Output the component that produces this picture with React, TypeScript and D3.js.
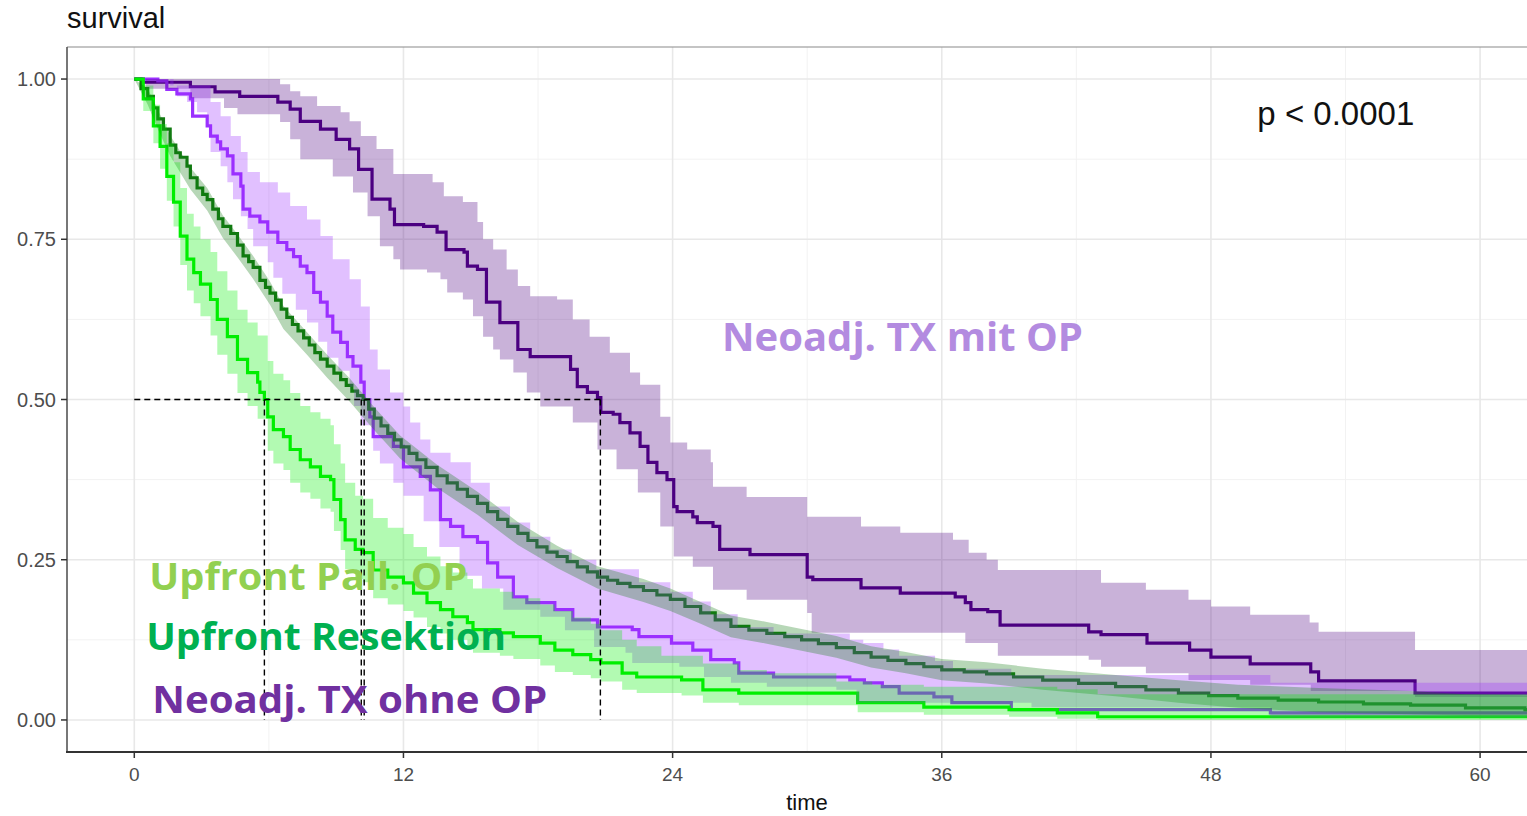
import { useEffect, useRef } from 'react';
import * as d3 from 'd3';

type Step = [number, number];

// axis ticks
const xTicks = [0, 12, 24, 36, 48, 60];
const xMinor = [6, 18, 30, 42, 54];
const yTicks = [0, 0.25, 0.5, 0.75, 1];
const yMinor = [0.125, 0.375, 0.625, 0.875];

// Neoadj. TX mit OP
const mitOpLine: Step[] = [[0,1],[0.4,0.995],[2.5,0.988],[3.6,0.98],[4.7,0.973],[6.4,0.964],[6.95,0.953],[7.4,0.934],[8.3,0.922],[9.0,0.906],[9.6,0.891],[10.0,0.859],[10.6,0.8125],[11.4,0.797],[11.6,0.773],[12.9,0.77],[13.5,0.761],[13.9,0.734],[14.7,0.73],[14.85,0.708],[15.3,0.703],[15.7,0.652],[16.3,0.62],[17.1,0.578],[17.65,0.567],[19.45,0.547],[19.75,0.52],[20.2,0.511],[20.65,0.503],[20.8,0.48],[21.35,0.477],[21.65,0.464],[22.1,0.448],[22.55,0.427],[22.9,0.402],[23.3,0.386],[23.75,0.375],[24.05,0.333],[24.2,0.325],[24.9,0.317],[25.1,0.308],[25.8,0.302],[26.1,0.266],[27.45,0.258],[30.0,0.223],[30.25,0.219],[32.4,0.206],[34.15,0.198],[36.6,0.192],[37.05,0.183],[37.3,0.172],[38.05,0.169],[38.6,0.148],[42.55,0.1375],[43.1,0.133],[45.15,0.12],[47.05,0.109],[48.0,0.098],[49.75,0.0875],[52.45,0.075],[52.8,0.061],[57.1,0.042],[63,0.042]];
const mitOpUpper: Step[] = [[0,1],[6.5,0.992],[6.95,0.981],[7.4,0.973],[8.15,0.958],[9.2,0.948],[9.6,0.934],[10.1,0.911],[10.8,0.891],[11.55,0.852],[13.3,0.839],[13.8,0.817],[14.65,0.808],[15.3,0.777],[15.55,0.75],[16.0,0.734],[16.6,0.703],[17.1,0.677],[17.65,0.661],[18.85,0.656],[19.55,0.625],[20.3,0.598],[21.2,0.573],[22.1,0.542],[22.55,0.523],[23.45,0.473],[23.9,0.433],[24.65,0.422],[25.7,0.402],[25.8,0.364],[27.3,0.348],[30.0,0.317],[32.4,0.302],[34.15,0.292],[36.5,0.281],[37.2,0.261],[38.0,0.25],[38.5,0.234],[43.1,0.214],[45.1,0.203],[47.0,0.1875],[48.0,0.177],[49.75,0.164],[52.4,0.152],[52.8,0.1375],[57.1,0.109],[63,0.109]];
const mitOpLower: Step[] = [[0,1],[0.5,0.985],[2.5,0.97],[4.0,0.955],[4.6,0.945],[6.5,0.933],[6.95,0.906],[7.4,0.875],[8.85,0.848],[9.75,0.823],[10.4,0.786],[10.95,0.739],[11.55,0.719],[11.85,0.703],[13.05,0.698],[13.65,0.6875],[13.95,0.667],[14.65,0.656],[15.1,0.63],[15.55,0.598],[16.0,0.578],[16.3,0.5625],[16.9,0.542],[17.5,0.511],[18.1,0.489],[19.55,0.464],[20.65,0.422],[21.5,0.391],[22.45,0.355],[23.45,0.302],[24.05,0.255],[24.9,0.239],[25.8,0.203],[27.3,0.1875],[30.0,0.167],[30.2,0.136],[37.05,0.12],[38.5,0.1],[42.55,0.094],[43.1,0.083],[45.1,0.073],[47.0,0.0625],[49.75,0.055],[52.45,0.045],[57.1,0.036],[63,0.036]];

// Neoadj. TX ohne OP
const ohneOpLine: Step[] = [[0,1],[1.05,0.997],[1.45,0.984],[1.9,0.977],[2.5,0.969],[2.6,0.942],[3.25,0.927],[3.4,0.911],[3.7,0.902],[3.85,0.891],[4.15,0.88],[4.4,0.852],[4.75,0.833],[4.85,0.797],[5.15,0.786],[5.6,0.777],[5.95,0.761],[6.4,0.745],[6.8,0.734],[7.1,0.723],[7.4,0.708],[7.7,0.698],[8.0,0.667],[8.3,0.652],[8.6,0.63],[8.85,0.605],[9.2,0.589],[9.5,0.567],[9.75,0.552],[10.1,0.527],[10.25,0.5],[10.5,0.473],[10.65,0.442],[11.55,0.427],[12.0,0.395],[12.75,0.38],[13.2,0.359],[13.65,0.3125],[14.1,0.302],[14.65,0.286],[15.3,0.277],[15.75,0.245],[16.2,0.223],[16.9,0.192],[17.5,0.183],[18.75,0.172],[19.55,0.156],[20.65,0.145],[22.2,0.141],[22.5,0.13],[23.95,0.12],[24.9,0.109],[25.7,0.094],[26.75,0.089],[26.95,0.073],[28.5,0.067],[31.9,0.0625],[32.55,0.058],[33.35,0.052],[34.1,0.042],[35.65,0.036],[36.45,0.027],[39.1,0.016],[50.65,0.011],[63,0.011]];
const ohneOpUpper: Step[] = [[0,1],[1.75,0.99],[3.4,0.964],[3.85,0.942],[4.3,0.911],[4.75,0.886],[5.05,0.855],[5.6,0.839],[6.4,0.823],[6.95,0.802],[7.7,0.781],[8.3,0.755],[8.85,0.719],[9.6,0.6875],[10.1,0.645],[10.5,0.578],[10.85,0.547],[11.4,0.511],[12.0,0.489],[12.3,0.464],[12.75,0.4375],[13.2,0.417],[14.1,0.402],[15.0,0.37],[15.85,0.333],[16.75,0.308],[17.65,0.286],[18.55,0.266],[19.5,0.25],[20.6,0.235],[22.5,0.215],[23.9,0.2],[24.9,0.185],[25.7,0.165],[26.9,0.145],[28.5,0.135],[31.9,0.125],[32.5,0.12],[33.4,0.11],[34.1,0.1],[35.7,0.092],[36.5,0.08],[39.1,0.07],[50.65,0.058],[63,0.058]];
const ohneOpLower: Step[] = [[0,1],[1.6,0.99],[1.9,0.973],[2.35,0.964],[2.8,0.948],[3.25,0.927],[3.4,0.886],[3.85,0.864],[4.15,0.839],[4.4,0.8125],[4.75,0.786],[5.05,0.766],[5.3,0.739],[5.95,0.714],[6.2,0.69],[6.6,0.665],[7.2,0.64],[7.7,0.62],[8.2,0.59],[8.6,0.565],[9.1,0.545],[9.6,0.52],[9.8,0.49],[10.1,0.46],[10.65,0.42],[10.95,0.4],[11.55,0.37],[12.0,0.35],[12.9,0.31],[13.6,0.27],[14.5,0.225],[15.5,0.205],[16.45,0.172],[18.1,0.161],[19.2,0.14],[20.5,0.114],[21.9,0.105],[22.2,0.089],[24.3,0.083],[25.4,0.067],[26.6,0.058],[28.2,0.052],[31.3,0.047],[32.2,0.027],[40,0.02],[50.65,0.004],[63,0.004]];

// Upfront Resektion
const resektionLine: Step[] = [[0,1],[0.3,0.985],[0.6,0.973],[0.85,0.955],[1.05,0.938],[1.3,0.922],[1.6,0.897],[1.85,0.885],[2.05,0.878],[2.35,0.864],[2.5,0.846],[2.8,0.83],[3.05,0.82],[3.25,0.812],[3.5,0.797],[3.75,0.782],[3.95,0.77],[4.3,0.759],[4.6,0.741],[4.85,0.724],[5.1,0.715],[5.3,0.706],[5.6,0.686],[5.85,0.675],[6.05,0.666],[6.3,0.655],[6.55,0.641],[6.8,0.628],[7.05,0.617],[7.3,0.607],[7.55,0.596],[7.8,0.585],[8.05,0.573],[8.3,0.563],[8.6,0.552],[8.9,0.541],[9.2,0.531],[9.45,0.522],[9.7,0.513],[9.95,0.506],[10.2,0.5],[10.45,0.485],[10.7,0.471],[11.0,0.459],[11.3,0.447],[11.6,0.437],[11.9,0.426],[12.25,0.416],[12.6,0.406],[13.0,0.394],[13.5,0.381],[13.95,0.37],[14.4,0.36],[14.85,0.349],[15.3,0.338],[15.75,0.325],[16.2,0.313],[16.65,0.302],[17.1,0.291],[17.55,0.28],[17.95,0.27],[18.4,0.262],[18.85,0.255],[19.3,0.247],[19.75,0.239],[20.2,0.231],[20.65,0.223],[21.1,0.218],[21.55,0.213],[22.1,0.208],[22.7,0.202],[23.3,0.195],[23.9,0.188],[24.55,0.177],[25.25,0.167],[25.9,0.156],[26.6,0.146],[27.4,0.14],[28.2,0.135],[29.0,0.13],[29.75,0.125],[30.5,0.119],[31.3,0.113],[32.1,0.105],[32.85,0.098],[33.6,0.093],[34.4,0.088],[35.2,0.083],[36.0,0.078],[37.0,0.075],[38.0,0.072],[39.2,0.067],[40.5,0.062],[42.1,0.057],[43.75,0.052],[45.1,0.047],[46.55,0.042],[47.9,0.038],[49.2,0.034],[51.0,0.031],[52.8,0.028],[54.8,0.025],[56.9,0.023],[59.35,0.019],[62,0.016],[63,0.016]];
const resektionUpper: Step[] = [[0,1],[0.6,0.985],[1.05,0.952],[1.6,0.912],[2.5,0.862],[3.25,0.83],[3.95,0.787],[4.6,0.758],[5.3,0.724],[6.05,0.684],[6.65,0.646],[7.7,0.605],[8.6,0.57],[9.6,0.533],[10.65,0.49],[11.85,0.444],[13.5,0.398],[15.3,0.356],[17.1,0.309],[18.85,0.272],[20.65,0.24],[22.7,0.22],[23.9,0.205],[25.25,0.184],[26.6,0.163],[28.2,0.153],[29.75,0.142],[31.3,0.131],[32.85,0.115],[34.4,0.106],[36.0,0.095],[38.0,0.09],[40.5,0.08],[43.75,0.07],[46.55,0.062],[49.2,0.055],[52.8,0.05],[56.9,0.045],[59.35,0.04],[63,0.038]];
const resektionLower: Step[] = [[0,1],[0.6,0.96],[1.05,0.922],[1.6,0.88],[2.5,0.828],[3.25,0.795],[3.95,0.752],[4.6,0.722],[5.3,0.688],[6.05,0.648],[6.65,0.61],[7.7,0.57],[8.6,0.534],[9.6,0.497],[10.65,0.454],[11.85,0.408],[13.5,0.362],[15.3,0.32],[17.1,0.273],[18.85,0.237],[20.65,0.205],[22.7,0.184],[23.9,0.17],[25.25,0.15],[26.6,0.129],[28.2,0.119],[29.75,0.108],[31.3,0.097],[32.85,0.082],[34.4,0.073],[36.0,0.062],[38.0,0.057],[40.5,0.047],[43.75,0.037],[46.55,0.027],[49.2,0.019],[52.8,0.012],[56.9,0.009],[59.35,0.007],[63,0.007]];

// Upfront Pall. OP
const pallLine: Step[] = [[0,1],[0.4,0.969],[0.85,0.927],[1.15,0.895],[1.45,0.848],[1.75,0.808],[2.05,0.755],[2.35,0.719],[2.65,0.698],[2.95,0.68],[3.4,0.656],[3.7,0.625],[4.15,0.598],[4.6,0.5625],[5.05,0.542],[5.5,0.527],[5.6,0.511],[5.8,0.5],[5.95,0.473],[6.2,0.453],[6.65,0.442],[6.95,0.422],[7.4,0.406],[7.85,0.395],[8.3,0.38],[8.75,0.375],[8.9,0.344],[9.2,0.3125],[9.4,0.281],[9.85,0.266],[10.2,0.261],[10.65,0.234],[11.3,0.223],[12.0,0.214],[12.45,0.198],[13.05,0.183],[13.65,0.172],[14.2,0.161],[14.85,0.152],[15.1,0.141],[16.3,0.136],[16.9,0.13],[18.1,0.12],[18.75,0.109],[19.55,0.102],[20.35,0.094],[20.8,0.089],[21.75,0.073],[22.4,0.067],[24.4,0.0625],[25.35,0.047],[26.95,0.042],[32.25,0.027],[35.2,0.02],[39.0,0.016],[41.15,0.011],[42.95,0.005],[63,0.005]];
const pallUpper: Step[] = [[0,1],[0.4,0.99],[0.85,0.96],[1.15,0.93],[1.45,0.9],[1.75,0.87],[2.05,0.83],[2.35,0.79],[2.65,0.77],[2.95,0.75],[3.4,0.73],[3.7,0.7],[4.15,0.67],[4.6,0.64],[5.05,0.62],[5.5,0.6],[5.95,0.56],[6.2,0.54],[6.65,0.53],[6.95,0.51],[7.4,0.49],[7.85,0.48],[8.3,0.47],[8.75,0.46],[8.9,0.43],[9.2,0.4],[9.4,0.37],[9.85,0.35],[10.2,0.345],[10.65,0.315],[11.3,0.3],[12.0,0.29],[12.45,0.27],[13.05,0.255],[13.65,0.24],[14.2,0.23],[14.85,0.22],[15.1,0.205],[16.3,0.2],[16.9,0.19],[18.1,0.18],[18.75,0.17],[19.55,0.16],[20.35,0.15],[20.8,0.14],[21.75,0.125],[22.4,0.115],[23.5,0.1],[25.35,0.088],[26.95,0.078],[28.2,0.073],[31.3,0.06],[32.9,0.055],[35.2,0.052],[41.15,0.048],[42.95,0.04],[63,0.04]];
const pallLower: Step[] = [[0,1],[0.4,0.95],[0.85,0.9],[1.15,0.86],[1.45,0.81],[1.75,0.77],[2.05,0.71],[2.35,0.67],[2.65,0.65],[2.95,0.63],[3.4,0.6],[3.7,0.57],[4.15,0.54],[4.6,0.51],[5.05,0.49],[5.5,0.47],[5.95,0.42],[6.2,0.4],[6.65,0.39],[6.95,0.37],[7.4,0.355],[7.85,0.345],[8.3,0.33],[8.75,0.325],[8.9,0.295],[9.2,0.265],[9.4,0.235],[9.85,0.22],[10.2,0.215],[10.65,0.19],[11.3,0.18],[12.0,0.17],[12.45,0.16],[13.05,0.145],[13.65,0.135],[14.2,0.125],[14.85,0.115],[15.1,0.105],[16.3,0.1],[16.9,0.095],[18.1,0.085],[18.75,0.075],[19.55,0.07],[20.35,0.065],[20.8,0.06],[21.75,0.047],[22.4,0.042],[24.4,0.038],[25.35,0.027],[26.95,0.023],[32.25,0.012],[35.2,0.008],[39.0,0.005],[41.15,0.002],[42.95,0],[63,0]];

// median survival times
const medians = [5.8, 10.12, 10.25, 20.78];

const groups = [
  { name: 'Neoadj. TX mit OP', color: '#4b0082', line: mitOpLine, upper: mitOpUpper, lower: mitOpLower, smooth: false },
  { name: 'Neoadj. TX ohne OP', color: '#9b30ff', line: ohneOpLine, upper: ohneOpUpper, lower: ohneOpLower, smooth: false },
  { name: 'Upfront Resektion', color: '#117a11', line: resektionLine, upper: resektionUpper, lower: resektionLower, smooth: true },
  { name: 'Upfront Pall. OP', color: '#00ee00', line: pallLine, upper: pallUpper, lower: pallLower, smooth: false },
];

function stepAt(steps: Step[], t: number) {
  let v = steps[0][1];
  for (const s of steps) {
    if (s[0] <= t) v = s[1];
    else break;
  }
  return v;
}

export default function App() {
  const svgRef = useRef<SVGSVGElement>(null);

  useEffect(() => {
    if (!svgRef.current) return;
    const svg = d3.select(svgRef.current);
    svg.selectAll('*').remove();

    const left = 67;
    const top = 47;
    const bottom = 752;
    const width = 1527;

    const x = d3.scaleLinear().domain([-3, 63]).range([left, left + 66 * 22.43]);
    const y = d3.scaleLinear().domain([-0.05, 1.05]).range([bottom, top]);

    const axisFont = '"Liberation Sans", Arial, sans-serif';

    svg.append('rect').attr('width', width).attr('height', 816).attr('fill', '#fff');

    svg
      .append('defs')
      .append('clipPath')
      .attr('id', 'panel')
      .append('rect')
      .attr('x', left)
      .attr('y', top)
      .attr('width', width - left)
      .attr('height', bottom - top);

    // grid lines
    const grid = svg.append('g');
    xMinor.forEach((t) => {
      grid.append('line').attr('x1', x(t)).attr('x2', x(t)).attr('y1', top).attr('y2', bottom)
        .attr('stroke', '#f2f2f2').attr('stroke-width', 1);
    });
    yMinor.forEach((v) => {
      grid.append('line').attr('x1', left).attr('x2', width).attr('y1', y(v)).attr('y2', y(v))
        .attr('stroke', '#f2f2f2').attr('stroke-width', 1);
    });
    xTicks.forEach((t) => {
      grid.append('line').attr('x1', x(t)).attr('x2', x(t)).attr('y1', top).attr('y2', bottom)
        .attr('stroke', '#e8e8e8').attr('stroke-width', 1.6);
    });
    yTicks.forEach((v) => {
      grid.append('line').attr('x1', left).attr('x2', width).attr('y1', y(v)).attr('y2', y(v))
        .attr('stroke', '#e8e8e8').attr('stroke-width', 1.6);
    });

    const plot = svg.append('g').attr('clip-path', 'url(#panel)');

    // survival lines (drawn below the ribbons, as in ggsurvplot)
    const line = d3
      .line<Step>()
      .x((d) => x(d[0]))
      .y((d) => y(d[1]))
      .curve(d3.curveStepAfter);

    groups.forEach((g) => {
      plot.append('path').datum(g.line).attr('fill', 'none').attr('stroke', g.color)
        .attr('stroke-width', 3.2).attr('d', line);
    });

    // confidence ribbons
    type Row = { t: number; lo: number; hi: number };
    groups.forEach((g) => {
      const area = d3
        .area<Row>()
        .x((d) => x(d.t))
        .y0((d) => y(d.lo))
        .y1((d) => y(d.hi))
        .curve(g.smooth ? d3.curveLinear : d3.curveStepAfter);
      const times = Array.from(new Set([...g.upper.map((d) => d[0]), ...g.lower.map((d) => d[0])])).sort(
        (a, b) => a - b
      );
      const rows = times.map((t) => ({ t, lo: stepAt(g.lower, t), hi: stepAt(g.upper, t) }));
      plot.append('path').datum(rows).attr('fill', g.color).attr('fill-opacity', 0.3).attr('d', area);
    });

    // median lines
    const dash = '6,4';
    const maxMedian = d3.max(medians) || 0;
    plot.append('line').attr('x1', x(0)).attr('x2', x(maxMedian)).attr('y1', y(0.5)).attr('y2', y(0.5))
      .attr('stroke', '#000').attr('stroke-width', 1.4).attr('stroke-dasharray', dash);
    medians.forEach((m) => {
      plot.append('line').attr('x1', x(m)).attr('x2', x(m)).attr('y1', y(0.5)).attr('y2', y(0))
        .attr('stroke', '#000').attr('stroke-width', 1.4).attr('stroke-dasharray', dash);
    });

    // panel border
    svg.append('line').attr('x1', left).attr('x2', width).attr('y1', top).attr('y2', top)
      .attr('stroke', '#8a8a8a').attr('stroke-width', 1.2);
    svg.append('line').attr('x1', left).attr('x2', left).attr('y1', top).attr('y2', bottom)
      .attr('stroke', '#555').attr('stroke-width', 1.6);
    svg.append('line').attr('x1', left - 1).attr('x2', width).attr('y1', bottom).attr('y2', bottom)
      .attr('stroke', '#333').attr('stroke-width', 2.2);

    // axes
    yTicks.forEach((v) => {
      svg.append('line').attr('x1', left - 6).attr('x2', left).attr('y1', y(v)).attr('y2', y(v))
        .attr('stroke', '#333').attr('stroke-width', 1.5);
      svg.append('text').attr('x', left - 11).attr('y', y(v)).attr('dy', '0.36em')
        .attr('text-anchor', 'end').attr('font-family', axisFont).attr('font-size', 20)
        .attr('fill', '#4d4d4d').text(d3.format('.2f')(v));
    });
    xTicks.forEach((t) => {
      svg.append('line').attr('x1', x(t)).attr('x2', x(t)).attr('y1', bottom).attr('y2', bottom + 6)
        .attr('stroke', '#333').attr('stroke-width', 1.5);
      svg.append('text').attr('x', x(t)).attr('y', 781).attr('text-anchor', 'middle')
        .attr('font-family', axisFont).attr('font-size', 19).attr('fill', '#4d4d4d').text(String(t));
    });

    svg.append('text').attr('x', 807).attr('y', 810).attr('text-anchor', 'middle')
      .attr('font-family', axisFont).attr('font-size', 22).attr('fill', '#111').text('time');
    svg.append('text').attr('x', 67).attr('y', 28)
      .attr('font-family', axisFont).attr('font-size', 29).attr('fill', '#111').text('survival');

    svg.append('text').attr('x', x(50.07)).attr('y', y(0.928))
      .attr('font-family', axisFont).attr('font-size', 33).attr('fill', '#111').text('p < 0.0001');

    // group labels
    const labelFont = '"Open Sans", "Noto Sans", sans-serif';
    const labels = [
      { text: 'Neoadj. TX mit OP', color: '#b38be0', t: 26.2, s: 0.575, w: 361, size: 40 },
      { text: 'Upfront Pall. OP', color: '#92d050', t: 0.67, s: 0.203, w: 318, size: 38 },
      { text: 'Upfront Resektion', color: '#00b050', t: 0.53, s: 0.109, w: 360, size: 38 },
      { text: 'Neoadj. TX ohne OP', color: '#7030a0', t: 0.8, s: 0.011, w: 395, size: 38 },
    ];
    labels.forEach((l) => {
      svg.append('text').attr('x', x(l.t)).attr('y', y(l.s)).attr('font-family', labelFont)
        .attr('font-weight', 700).attr('font-size', l.size).attr('fill', l.color)
        .attr('textLength', l.w).attr('lengthAdjust', 'spacingAndGlyphs').text(l.text);
    });
  }, []);

  return (
    <svg
      ref={svgRef}
      width={1527}
      height={816}
      style={{ position: 'absolute', left: 0, top: 0, display: 'block' }}
    />
  );
}
